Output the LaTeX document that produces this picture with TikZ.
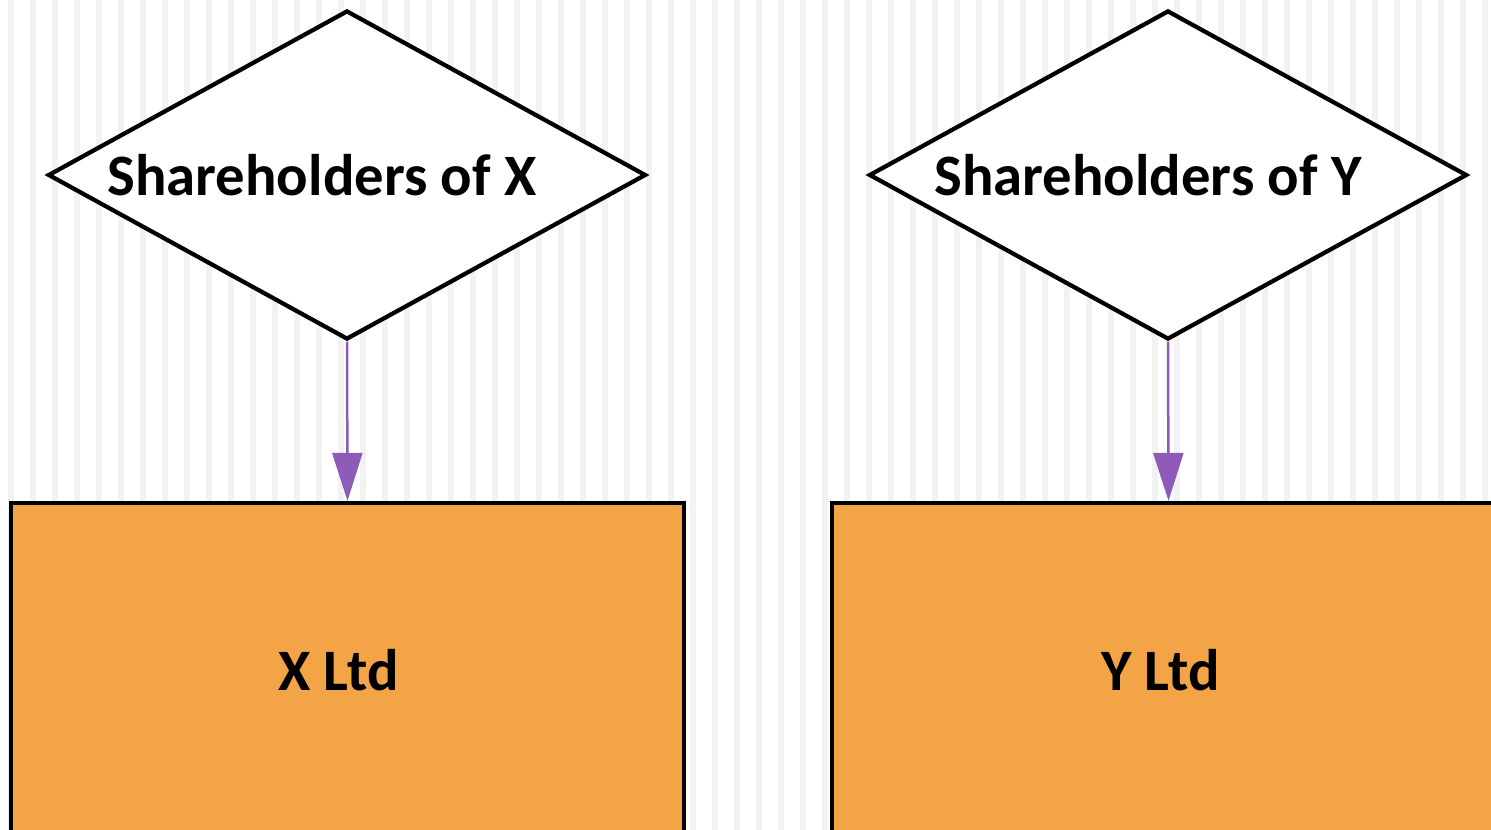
\documentclass[tikz,border=0pt]{standalone}
\usepackage{fontspec}
\setmainfont{Carlito}
\usetikzlibrary{shapes.geometric,arrows.meta}
\definecolor{stripegray}{HTML}{F2F2F2}
\definecolor{boxorange}{HTML}{F2A446}
\definecolor{linkpurple}{HTML}{8E5BB8}
\begin{document}
\begin{tikzpicture}[
			holders/.style={diamond, draw=black, fill=white, line width=0.085cm, inner sep=0pt, minimum width=11.96cm, minimum height=6.58cm},
			company/.style={rectangle, draw=black, fill=boxorange, line width=0.085cm, minimum width=13.46cm, minimum height=6.68cm},
			lbl/.style={font=\fontsize{33.4}{38}\selectfont\bfseries},
			link/.style={draw=linkpurple, line width=0.05cm, -{Triangle[length=0.96cm, width=0.6cm]}}
			]
			\useasboundingbox (0,0) rectangle (29.82,-16.6);
			\clip (0,0) rectangle (29.82,-16.6);
			% background stripes
			\foreach \i in {0,...,67}
				\fill[stripegray] (0.16+0.44*\i,0) rectangle ++(0.12,-16.6);
			% owners
			\node[holders] (shx) at (6.94,-3.5) {};
			\node[holders] (shy) at (23.36,-3.5) {};
			\node[lbl] at ([xshift=-0.5cm, yshift=0cm]shx.center) {Shareholders of X};
			\node[lbl] at ([xshift=-0.4cm, yshift=0cm]shy.center) {Shareholders of Y};
			% companies
			\node[company] (xltd) at (6.95,-13.4) {};
			\node[company] (yltd) at (23.37,-13.4) {};
			\node[lbl] at ([xshift=-0.18cm]xltd.center) {X Ltd};
			\node[lbl] at ([xshift=-0.16cm]yltd.center) {Y Ltd};
			% links
			\draw[link] (shx.south) -- (xltd.north);
			\draw[link] (shy.south) -- (yltd.north);
		\end{tikzpicture}
\end{document}
